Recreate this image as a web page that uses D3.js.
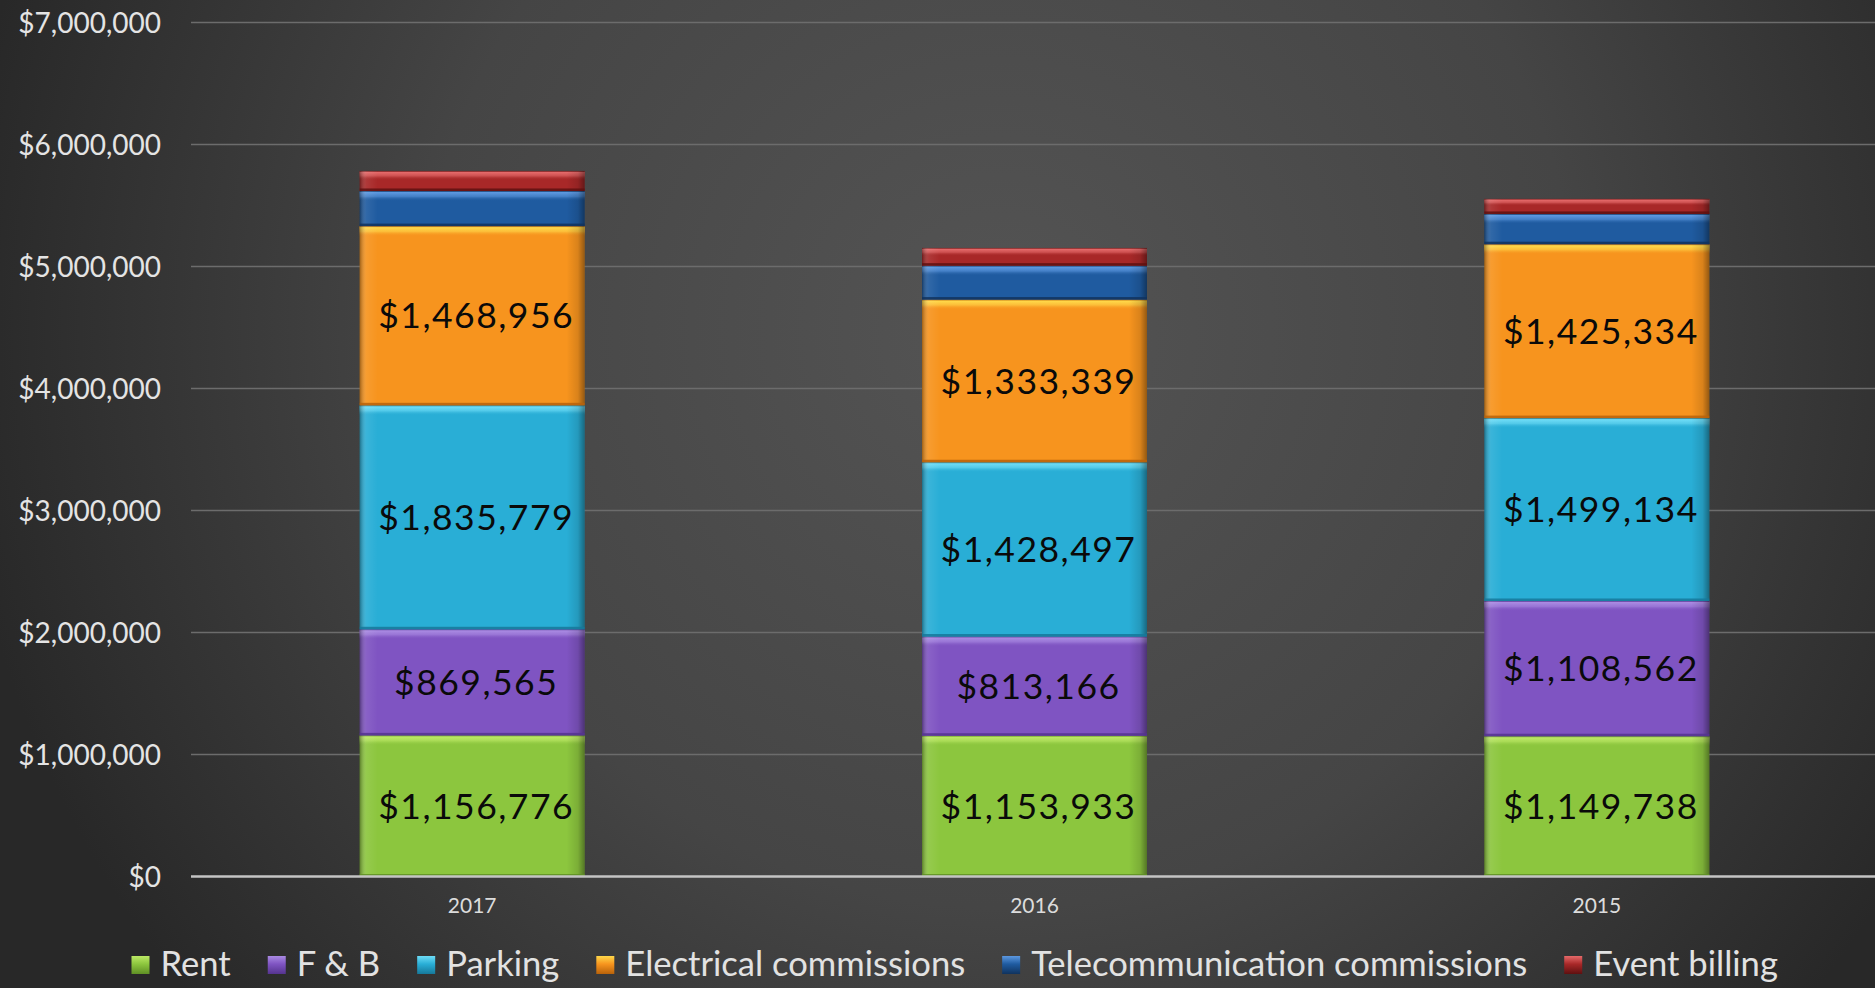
<!DOCTYPE html>
<html>
<head>
<meta charset="utf-8">
<script src="https://cdn.jsdelivr.net/npm/d3@7/dist/d3.min.js"></script>
<style>
  html, body { margin: 0; padding: 0; background: #2b2b2b; }
  svg { display: block; }
  text { font-family: Lato, "Open Sans", sans-serif; }
</style>
</head>
<body>
<svg id="chart" width="1875" height="988"></svg>
<script>
// ---- data ----
const years = ["2017", "2016", "2015"];
const seriesNames = ["Rent", "F & B", "Parking", "Electrical commissions", "Telecommunication commissions", "Event billing"];
const rent       = [1156776, 1153933, 1149738];
const fnb        = [869565, 813166, 1108562];
const parking    = [1835779, 1428497, 1499134];
const electrical = [1468956, 1333339, 1425334];
const telecom    = [288000, 278000, 248000];   // estimated (unlabelled)
const eventBill  = [164000, 145000, 123000];   // estimated (unlabelled)
const labelled   = [true, true, true, true, false, false];
const yTicks = [0, 1000000, 2000000, 3000000, 4000000, 5000000, 6000000, 7000000];

const seriesValues = [rent, fnb, parking, electrical, telecom, eventBill];
const colors = [
  {base: "#8cc63e", light: "#bce865", dark: "#5f8f25"},
  {base: "#7f54c2", light: "#a98ae2", dark: "#55348f"},
  {base: "#29aed6", light: "#6edcf6", dark: "#16789a"},
  {base: "#f7941e", light: "#ffd84a", dark: "#b8620a"},
  {base: "#1f5ba0", light: "#5c98e0", dark: "#10335e"},
  {base: "#a82828", light: "#e56a6a", dark: "#5e1010"}
];

const W = 1875, H = 988;
const svg = d3.select("#chart");
const defs = svg.append("defs");

// background
const bg = defs.append("radialGradient").attr("id", "bg")
  .attr("gradientUnits", "userSpaceOnUse")
  .attr("cx", 1000).attr("cy", 330).attr("r", 1050);
bg.append("stop").attr("offset", "0%").attr("stop-color", "#545454");
bg.append("stop").attr("offset", "55%").attr("stop-color", "#454545");
bg.append("stop").attr("offset", "100%").attr("stop-color", "#282828");
svg.append("rect").attr("width", W).attr("height", H).attr("fill", "url(#bg)");

// gradients per series
colors.forEach((c, i) => {
  const t = defs.append("linearGradient").attr("id", "top" + i)
    .attr("x1", 0).attr("y1", 0).attr("x2", 0).attr("y2", 1);
  t.append("stop").attr("offset", "0%").attr("stop-color", c.dark);
  t.append("stop").attr("offset", "15%").attr("stop-color", c.light);
  t.append("stop").attr("offset", "55%").attr("stop-color", c.light).attr("stop-opacity", 0.6);
  t.append("stop").attr("offset", "100%").attr("stop-color", c.base).attr("stop-opacity", 0);
  const m = defs.append("linearGradient").attr("id", "mk" + i)
    .attr("x1", 0).attr("y1", 0).attr("x2", 0).attr("y2", 1);
  m.append("stop").attr("offset", "0%").attr("stop-color", c.light);
  m.append("stop").attr("offset", "45%").attr("stop-color", c.base);
  m.append("stop").attr("offset", "100%").attr("stop-color", c.dark);
});
const side = defs.append("linearGradient").attr("id", "side")
  .attr("x1", 0).attr("y1", 0).attr("x2", 1).attr("y2", 0);
side.append("stop").attr("offset", "0%").attr("stop-color", "#000").attr("stop-opacity", 0.35);
side.append("stop").attr("offset", "3%").attr("stop-color", "#fff").attr("stop-opacity", 0.08);
side.append("stop").attr("offset", "8%").attr("stop-color", "#fff").attr("stop-opacity", 0);
side.append("stop").attr("offset", "92%").attr("stop-color", "#000").attr("stop-opacity", 0);
side.append("stop").attr("offset", "97%").attr("stop-color", "#000").attr("stop-opacity", 0.12);
side.append("stop").attr("offset", "100%").attr("stop-color", "#000").attr("stop-opacity", 0.4);

// scales
const x = d3.scaleBand().domain(years).range([191, 1878]).paddingInner(0.6).paddingOuter(0.3);
const y = d3.scaleLinear().domain([0, 7000000]).range([876.5, 22.5]);

// gridlines
svg.append("g").selectAll("line").data(yTicks.filter(d => d > 0)).join("line")
  .attr("x1", 191).attr("x2", W)
  .attr("y1", d => y(d)).attr("y2", d => y(d))
  .attr("stroke", "#6c6c6c").attr("stroke-width", 1.5);

// y axis
const yAxis = d3.axisLeft(y).tickValues(yTicks).tickFormat(d3.format("$,")).tickSize(0).tickPadding(0);
const ya = svg.append("g").attr("transform", "translate(161,0)").call(yAxis);
ya.select(".domain").remove();
ya.selectAll("text").attr("fill", "#e4e4e4").attr("font-size", 28)
  .attr("font-family", "Lato, 'Open Sans', sans-serif").attr("dy", "0.34em");

// stack
const rows = years.map((yr, j) => {
  const r = {year: yr};
  seriesNames.forEach((s, i) => r[s] = seriesValues[i][j]);
  return r;
});
const stacked = d3.stack().keys(seriesNames)(rows);

const gBars = svg.append("g");
stacked.forEach((layer, i) => {
  const g = gBars.append("g");
  layer.forEach((d) => {
    const x0 = x(d.data.year), bw = x.bandwidth();
    const yTop = y(d[1]), yBot = y(d[0]);
    const h = yBot - yTop;
    g.append("rect").attr("x", x0).attr("y", yTop).attr("width", bw).attr("height", h)
      .attr("fill", colors[i].base);
    g.append("rect").attr("x", x0).attr("y", yTop).attr("width", bw).attr("height", Math.min(10, h * 0.45))
      .attr("fill", "url(#top" + i + ")");
    g.append("rect").attr("x", x0).attr("y", yTop).attr("width", bw).attr("height", h)
      .attr("fill", "url(#side)");
    g.append("rect").attr("x", x0).attr("y", yBot - 2.5).attr("width", bw).attr("height", 2.5)
      .attr("fill", colors[i].dark).attr("opacity", 0.85);
  });
});

// value labels
const fmt = d3.format("$,");
stacked.forEach((layer, i) => {
  if (!labelled[i]) return;
  svg.append("g").selectAll("text").data(layer).join("text")
    .attr("x", d => x(d.data.year) + x.bandwidth() / 2 + 4)
    .attr("y", d => (y(d[0]) + y(d[1])) / 2)
    .attr("dy", "0.36em")
    .attr("text-anchor", "middle")
    .attr("font-size", 35.5).attr("letter-spacing", 1.5)
    .attr("fill", "#0a0a0a")
    .text(d => fmt(d[1] - d[0]));
});

// x axis baseline
svg.append("line").attr("x1", 191).attr("x2", W).attr("y1", y(0)).attr("y2", y(0))
  .attr("stroke", "#c4c4c4").attr("stroke-width", 2.5);
const xAxis = d3.axisBottom(x).tickSize(0).tickPadding(0);
const xa = svg.append("g").attr("transform", "translate(0," + (y(0) + 22) + ")").call(xAxis);
xa.select(".domain").remove();
xa.selectAll("text").attr("fill", "#dcdcdc").attr("font-size", 21)
  .attr("font-family", "Lato, 'Open Sans', sans-serif").attr("dy", "0.71em");

// legend
const legend = svg.append("g").attr("transform", "translate(0,964)");
let cx = 131.5;
seriesNames.forEach((s, i) => {
  legend.append("rect").attr("x", cx).attr("y", -8).attr("width", 18).attr("height", 18)
    .attr("fill", "url(#mk" + i + ")");
  const t = legend.append("text").attr("x", cx + 29).attr("y", 0).attr("dy", "0.36em")
    .attr("font-size", 34.6).attr("fill", "#e2e2e2").text(s);
  const w = t.node().getComputedTextLength();
  cx += 29 + w + 37;
});
</script>
</body>
</html>
